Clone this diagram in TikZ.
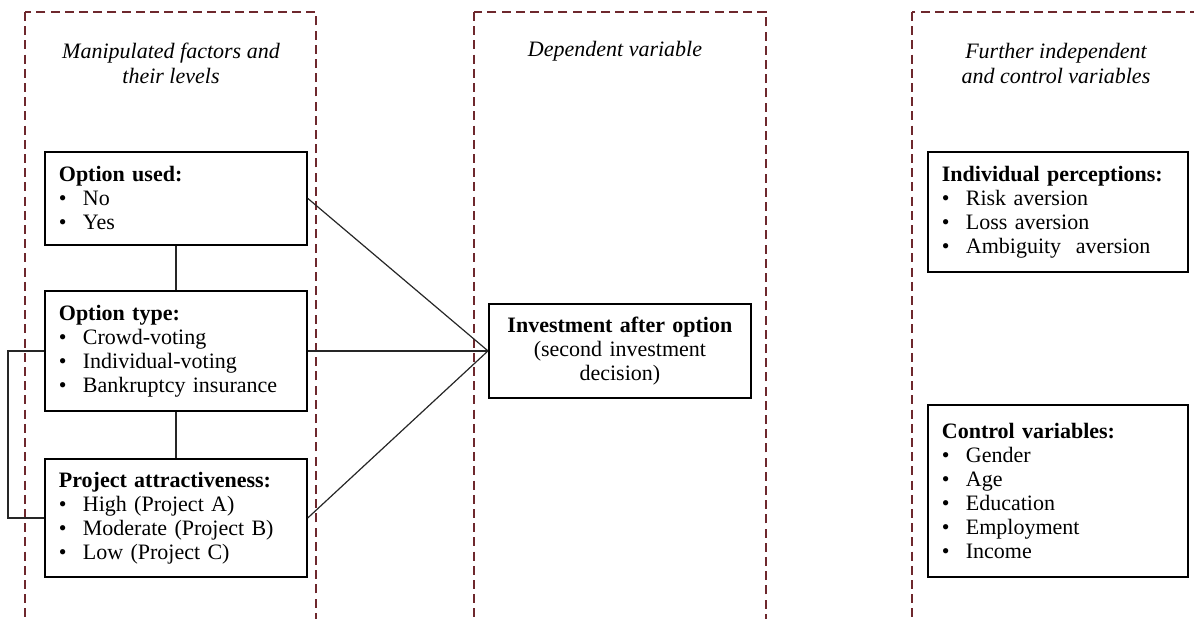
\documentclass[tikz,border=0pt]{standalone}
\usepackage{fontspec}
\setmainfont{Liberation Serif}
\definecolor{framered}{RGB}{110,40,45}

\tikzstyle{frame}=[draw=framered,line width=0.7pt,dash pattern=on 4.5pt off 2.6pt]
\tikzstyle{factor}=[draw,line width=0.9pt,anchor=north west,align=left,inner xsep=7pt,inner ysep=2pt,font=\fontsize{11}{12}\selectfont]
\tikzstyle{heading}=[align=center,font=\fontsize{11}{12.5}\selectfont\itshape]
\tikzstyle{link}=[line width=0.6pt,draw=black!85]
\newcommand{\itm}{\par\makebox[12pt][l]{\textbullet}}

\begin{document}
\begin{tikzpicture}[x=0.5pt,y=-0.5pt]
	\useasboundingbox (0,0) rectangle (1194,618);
	% the three columns
	\draw[frame] (25,12) rectangle (316,640);
	\draw[frame] (474,12) rectangle (766,640);
	\draw[frame] (912,12) rectangle (1230,640);
	\node[heading] (hfac) at (171,63) {Manipulated factors and\\their levels};
	\node[heading] (hdep) at (615,51) {Dependent variable};
	\node[heading] (hind) at (1056,63) {Further independent\\and control variables};

	% manipulated factors
	\node[factor,text width=117pt,minimum height=46.5pt] (used) at (44,151)
		{\textbf{Option used:}\itm No\itm Yes};
	\node[factor,text width=117pt,minimum height=60pt] (type) at (44,290)
		{\textbf{Option type:}\itm Crowd-voting\itm Individual-voting\itm Bankruptcy insurance};
	\node[factor,text width=117pt,minimum height=59pt] (attr) at (44,458)
		{\textbf{Project attractiveness:}\itm High (Project A)\itm Moderate (Project B)\itm Low (Project C)};

	% dependent variable
	\node[factor,align=center,text width=117pt,minimum height=47pt] (inv) at (488,303)
		{\textbf{Investment after option}\\(second investment\\decision)};

	% further variables
	\node[factor,text width=116pt,minimum height=60pt] (perc) at (927,151)
		{\textbf{Individual perceptions:}\itm Risk aversion\itm Loss aversion\itm Ambiguity\ \ aversion};
	\node[factor,text width=116pt,minimum height=86pt] (ctrl) at (927,404)
		{\textbf{Control variables:}\itm Gender\itm Age\itm Education\itm Employment\itm Income};

	% connectors
	\draw[link] (used.south) -- (type.north);
	\draw[link] (type.south) -- (attr.north);
	\draw[link] (type.west) -- ++(-36,0) |- (attr.west);
	\draw[link] (used.east) -- (inv.west);
	\draw[link] (type.east) -- (inv.west);
	\draw[link] (attr.east) -- (inv.west);
\end{tikzpicture}
\end{document}
